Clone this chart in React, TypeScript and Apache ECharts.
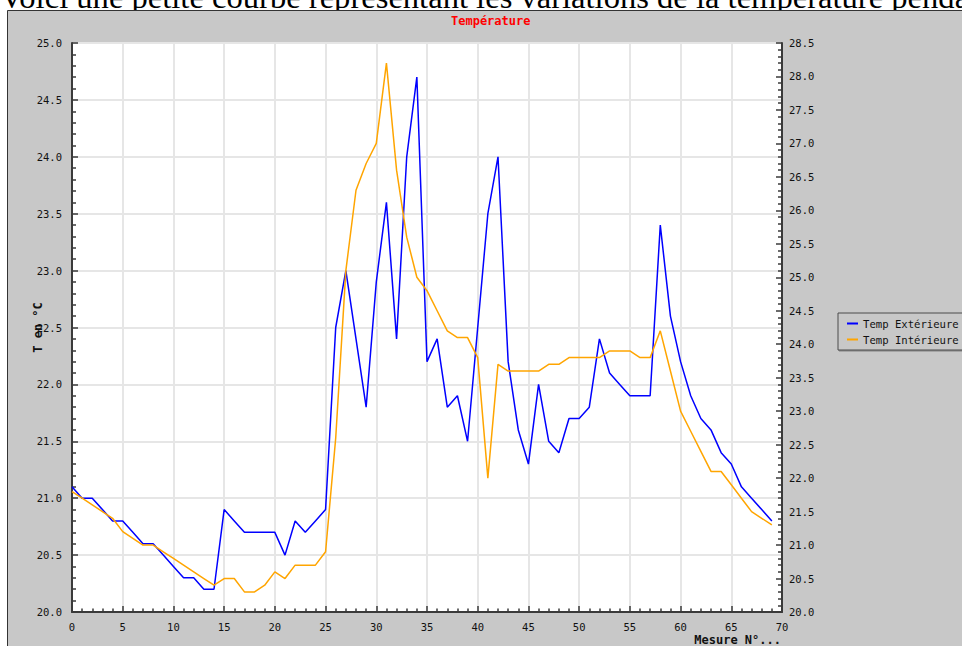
import React, { useEffect, useRef } from "react";
import * as echarts from "echarts";

// Measurement numbers (x axis)
const mesures = [
  0, 1, 2, 3, 4, 5, 6, 7, 8, 9,
  10, 11, 12, 13, 14, 15, 16, 17, 18, 19,
  20, 21, 22, 23, 24, 25, 26, 27, 28, 29,
  30, 31, 32, 33, 34, 35, 36, 37, 38, 39,
  40, 41, 42, 43, 44, 45, 46, 47, 48, 49,
  50, 51, 52, 53, 54, 55, 56, 57, 58, 59,
  60, 61, 62, 63, 64, 65, 66, 67, 68, 69,
];

// Temp Extérieure (left axis, °C)
const tempExterieure = [
  21.1, 21.0, 21.0, 20.9, 20.8, 20.8, 20.7, 20.6, 20.6, 20.5,
  20.4, 20.3, 20.3, 20.2, 20.2, 20.9, 20.8, 20.7, 20.7, 20.7,
  20.7, 20.5, 20.8, 20.7, 20.8, 20.9, 22.5, 23.0, 22.4, 21.8,
  22.9, 23.6, 22.4, 24.0, 24.7, 22.2, 22.4, 21.8, 21.9, 21.5,
  22.5, 23.5, 24.0, 22.2, 21.6, 21.3, 22.0, 21.5, 21.4, 21.7,
  21.7, 21.8, 22.4, 22.1, 22.0, 21.9, 21.9, 21.9, 23.4, 22.6,
  22.2, 21.9, 21.7, 21.6, 21.4, 21.3, 21.1, 21.0, 20.9, 20.8,
];

// Temp Intérieure (right axis, °C)
const tempInterieure = [
  21.8, 21.7, 21.6, 21.5, 21.4, 21.2, 21.1, 21.0, 21.0, 20.9,
  20.8, 20.7, 20.6, 20.5, 20.4, 20.5, 20.5, 20.3, 20.3, 20.4,
  20.6, 20.5, 20.7, 20.7, 20.7, 20.9, 22.6, 25.1, 26.3, 26.7,
  27.0, 28.2, 26.6, 25.6, 25.0, 24.8, 24.5, 24.2, 24.1, 24.1,
  23.8, 22.0, 23.7, 23.6, 23.6, 23.6, 23.6, 23.7, 23.7, 23.8,
  23.8, 23.8, 23.8, 23.9, 23.9, 23.9, 23.8, 23.8, 24.2, 23.6,
  23.0, 22.7, 22.4, 22.1, 22.1, 21.9, 21.7, 21.5, 21.4, 21.3,
];

const seriesNames = ["Temp Extérieure", "Temp Intérieure"];
const titleText = "Température";
const yAxisName = "T en °C";
const xAxisName = "Mesure N°...";
const headerText =
  "Voici une petite courbe représentant les variations de la température pendant la journée";

const MONO = "'DejaVu Sans Mono', monospace";

export default function App() {
  const ref = useRef<HTMLDivElement>(null);

  useEffect(() => {
    if (!ref.current) return;
    const chart = echarts.init(ref.current, null, { renderer: "svg" });

    const gridLeft = 72;
    const gridTop = 43;
    const gridWidth = 710;
    const gridHeight = 569;

    const option: any = {
      animation: false,
      backgroundColor: "#ffffff",
      title: {
        text: titleText,
        left: 451,
        top: 15,
        padding: 0,
        textStyle: {
          color: "#ff0000",
          fontFamily: MONO,
          fontWeight: "bold",
          fontSize: 12,
        },
      },
      graphic: [
        {
          type: "text",
          z: -20,
          x: 0,
          y: -3,
          style: {
            text: headerText,
            font: "32.6px 'Liberation Serif', serif",
            fill: "#000",
            verticalAlign: "middle",
            align: "left",
          },
        },
        {
          type: "rect",
          z: -10,
          shape: { x: 7.5, y: 10.5, width: 1000, height: 700 },
          style: { fill: "#C8C8C8", stroke: "#333", lineWidth: 1 },
        },
        {
          type: "text",
          x: 781,
          y: 640,
          style: {
            text: xAxisName,
            font: "bold 12px " + MONO,
            fill: "#111",
            align: "right",
            verticalAlign: "middle",
          },
        },
      ],
      legend: {
        orient: "vertical",
        left: 838,
        top: 313,
        padding: [5, 16, 5, 9],
        itemGap: 5,
        itemWidth: 11,
        itemHeight: 2,
        icon: "rect",
        backgroundColor: "#C8C8C8",
        borderColor: "#4a4a4a",
        borderWidth: 1,
        shadowColor: "rgba(0,0,0,0.35)",
        shadowBlur: 0,
        shadowOffsetX: 1,
        shadowOffsetY: 1,
        textStyle: { fontFamily: MONO, fontSize: 10.6, color: "#111" },
        data: seriesNames,
      },
      grid: {
        left: gridLeft,
        top: gridTop,
        width: gridWidth,
        height: gridHeight,
        show: true,
        backgroundColor: "#ffffff",
        borderWidth: 0,
      },
      xAxis: {
        type: "value",
        min: 0,
        max: 70,
        interval: 5,
        axisLine: { show: true, onZero: false, lineStyle: { color: "#3a3a3a", width: 2 } },
        axisTick: { show: true, inside: true, length: 6, lineStyle: { color: "#3a3a3a", width: 1.5 } },
        minorTick: { show: true, splitNumber: 5, length: 3.5, lineStyle: { color: "#3a3a3a", width: 1.5 } },
        axisLabel: { margin: 9, fontFamily: MONO, fontSize: 10.5, color: "#111" },
        splitLine: { show: true, lineStyle: { color: "#E6E6E6", width: 2 } },
      },
      yAxis: [
        {
          type: "value",
          position: "left",
          min: 20,
          max: 25,
          interval: 0.5,
          name: yAxisName,
          nameLocation: "middle",
          nameGap: 28,
          nameRotate: 90,
          nameMoveOverlap: false,
          nameTextStyle: { fontFamily: MONO, fontWeight: "bold", fontSize: 12, color: "#111" },
          axisLine: { show: true, lineStyle: { color: "#3a3a3a", width: 2 } },
          axisTick: { show: true, inside: true, length: 6, lineStyle: { color: "#3a3a3a", width: 1.5 } },
          minorTick: { show: true, splitNumber: 5, length: 4, lineStyle: { color: "#3a3a3a", width: 1.5 } },
          axisLabel: {
            margin: 10,
            fontFamily: MONO,
            fontSize: 10.5,
            color: "#111",
            formatter: (v: number) => v.toFixed(1),
          },
          splitLine: { show: true, lineStyle: { color: "#E6E6E6", width: 2 } },
        },
        {
          type: "value",
          position: "right",
          min: 20,
          max: 28.5,
          interval: 0.5,
          axisLine: { show: true, lineStyle: { color: "#3a3a3a", width: 2 } },
          axisTick: { show: true, inside: true, length: 6, lineStyle: { color: "#3a3a3a", width: 1.5 } },
          minorTick: { show: true, splitNumber: 5, length: 4, lineStyle: { color: "#3a3a3a", width: 1.5 } },
          axisLabel: {
            margin: 7,
            fontFamily: MONO,
            fontSize: 10.5,
            color: "#111",
            formatter: (v: number) => v.toFixed(1),
          },
          splitLine: { show: false },
        },
      ],
      series: [
        {
          name: seriesNames[0],
          type: "line",
          yAxisIndex: 0,
          showSymbol: false,
          color: "#0000FF",
          lineStyle: { color: "#0000FF", width: 1.5 },
          data: mesures.map((m, i) => [m, tempExterieure[i]]),
        },
        {
          name: seriesNames[1],
          type: "line",
          yAxisIndex: 1,
          showSymbol: false,
          color: "#FFA500",
          lineStyle: { color: "#FFA500", width: 1.5 },
          data: mesures.map((m, i) => [m, tempInterieure[i]]),
        },
      ],
    };

    chart.setOption(option);
    return () => chart.dispose();
  }, []);

  return (
    <div
      ref={ref}
      style={{ position: "fixed", left: 0, top: 0, width: 962, height: 646 }}
    />
  );
}
